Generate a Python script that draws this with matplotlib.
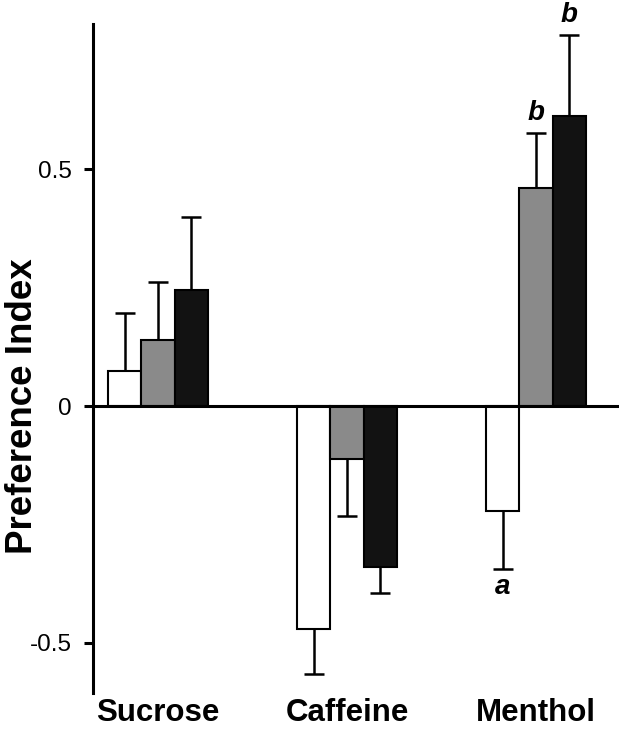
import matplotlib
matplotlib.use("Agg")
import matplotlib.pyplot as plt
import numpy as np

categories = ["Sucrose", "Caffeine", "Menthol"]
white_vals = [0.074, -0.470, -0.222]
gray_vals = [0.139, -0.112, 0.460]
black_vals = [0.245, -0.340, 0.612]
white_err = [0.122, 0.095, 0.122]
gray_err = [0.123, 0.120, 0.116]
black_err = [0.154, 0.055, 0.171]
yticks = [-0.5, 0, 0.5]
ytick_labels = ["-0.5", "0", "0.5"]
# significance letters: (series index, category index, letter)
sig_labels = [(0, 2, "a"), (1, 2, "b"), (2, 2, "b")]

plt.rcParams["font.family"] = ["Liberation Sans", "DejaVu Sans"]

fig = plt.figure(figsize=(6.23, 7.40), dpi=100)
ax = fig.add_axes([93/623, 1-693/740, (619-93)/623, (693-24)/740])

x = np.arange(len(categories))
w = 0.177
series = [(white_vals, white_err, "white"),
          (gray_vals, gray_err, "#8a8a8a"),
          (black_vals, black_err, "#121212")]

for i, (vals, errs, col) in enumerate(series):
    xs = x + (i - 1) * w
    ax.bar(xs, vals, width=w, color=col, edgecolor="black", linewidth=1.5, zorder=2)
    vals_a = np.array(vals)
    errs_a = np.array(errs)
    ends = np.where(vals_a < 0, vals_a - errs_a, vals_a + errs_a)
    ax.vlines(xs, vals_a, ends, color="black", linewidth=1.8, zorder=3)
    ax.plot(xs, ends, linestyle="none", marker="_", markersize=14.4,
            markeredgewidth=1.8, color="black", zorder=3, clip_on=False)

for si, ci, letter in sig_labels:
    vals, errs, _ = series[si]
    v = vals[ci]; e = errs[ci]
    xs = x[ci] + (si - 1) * w
    if v < 0:
        yend = v - e
        off = -13
    else:
        yend = v + e
        off = 14.5
    ax.annotate(letter, (xs, yend), xytext=(0, off), textcoords="offset points",
                ha="center", va="center", fontsize=20, fontweight="bold",
                fontstyle="italic", annotation_clip=False)

ax.axhline(0, color="black", linewidth=2.2, zorder=4)

ax.set_xlim(-0.344, 2.439)
ax.set_ylim(-0.6055, 0.806)
ax.set_yticks(yticks)
ax.set_yticklabels(ytick_labels, fontsize=17.5)
ax.tick_params(axis="y", direction="out", length=6.5, width=2.2, pad=9)
ax.set_xticks([])
for s in ["top", "right", "bottom"]:
    ax.spines[s].set_visible(False)
ax.spines["left"].set_linewidth(2.2)

for xi, cat in zip(x, categories):
    ax.text(xi, -0.0419, cat, transform=ax.get_xaxis_transform(), ha="center",
            va="baseline", fontsize=22.5, fontweight="bold")

fig.text(32/623, 1-406/740, "Preference Index", rotation=90, rotation_mode="anchor",
         ha="center", va="baseline", fontsize=26.5, fontweight="bold")

fig.savefig("out.png", dpi=100)
